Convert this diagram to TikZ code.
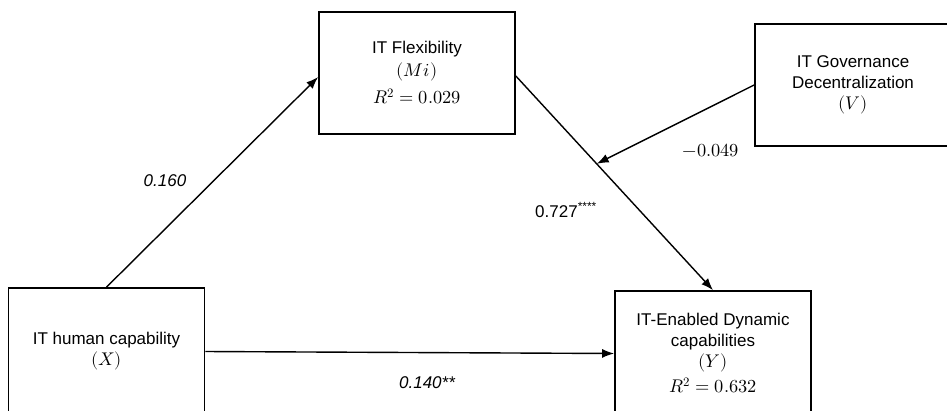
\documentclass[tikz,border=0pt]{standalone}
\usepackage{fontspec}
\usepackage{unicode-math}
\setmainfont{Liberation Sans}
\setmathfont{Latin Modern Math}[Scale=1.08]
\usetikzlibrary{arrows.meta,calc}

\begin{document}
\begin{tikzpicture}[x=1pt,y=-1pt,
  varbox/.style={draw, line width=1.7pt, minimum width=196pt, minimum height=122pt,
    align=center, inner sep=0pt, font=\fontsize{17}{21}\selectfont},
  link/.style={line width=1.4pt, -{Latex[length=12pt,width=9pt]}},
  coef/.style={inner sep=0pt, font=\fontsize{17}{20}\selectfont}]
\useasboundingbox (0,0) rectangle (947,410);

% variables
\node[varbox] (Mi) at (417,73) {IT Flexibility\\[2pt]$(Mi)$\\[6pt]$R^2 = 0.029$};
\node[varbox] (V) at (853,85) {IT Governance\\Decentralization\\$(V)$};
\node[varbox, minimum height=127pt] (X) at (106.5,351.5) {IT human capability\\$(X)$};
\node[varbox, minimum height=125pt] (Y) at (713,353.5)
  {IT-Enabled Dynamic\\capabilities\\$(Y)$\\[4pt]$R^2 = 0.632$};

% paths
\draw[link] (X.north) -- ([yshift=-4pt]Mi.west);
\draw[link] ([yshift=-3pt]Mi.east) -- coordinate[pos=0.41] (mod) (Y.north);
\draw[link] (V.west) -- (mod);
\draw[link] (X.east) -- (Y.west);

% coefficients
\node[coef, font=\fontsize{17}{20}\selectfont\itshape] (b1) at (165,181) {0.160};
\node[coef] (b2) at (566,210) {0.727\textsuperscript{****}};
\node[coef] (b3) at (711,150) {$-0.049$};
\node[coef, font=\fontsize{17}{20}\selectfont\itshape] (b4) at (427,383) {0.140**};
\end{tikzpicture}
\end{document}
